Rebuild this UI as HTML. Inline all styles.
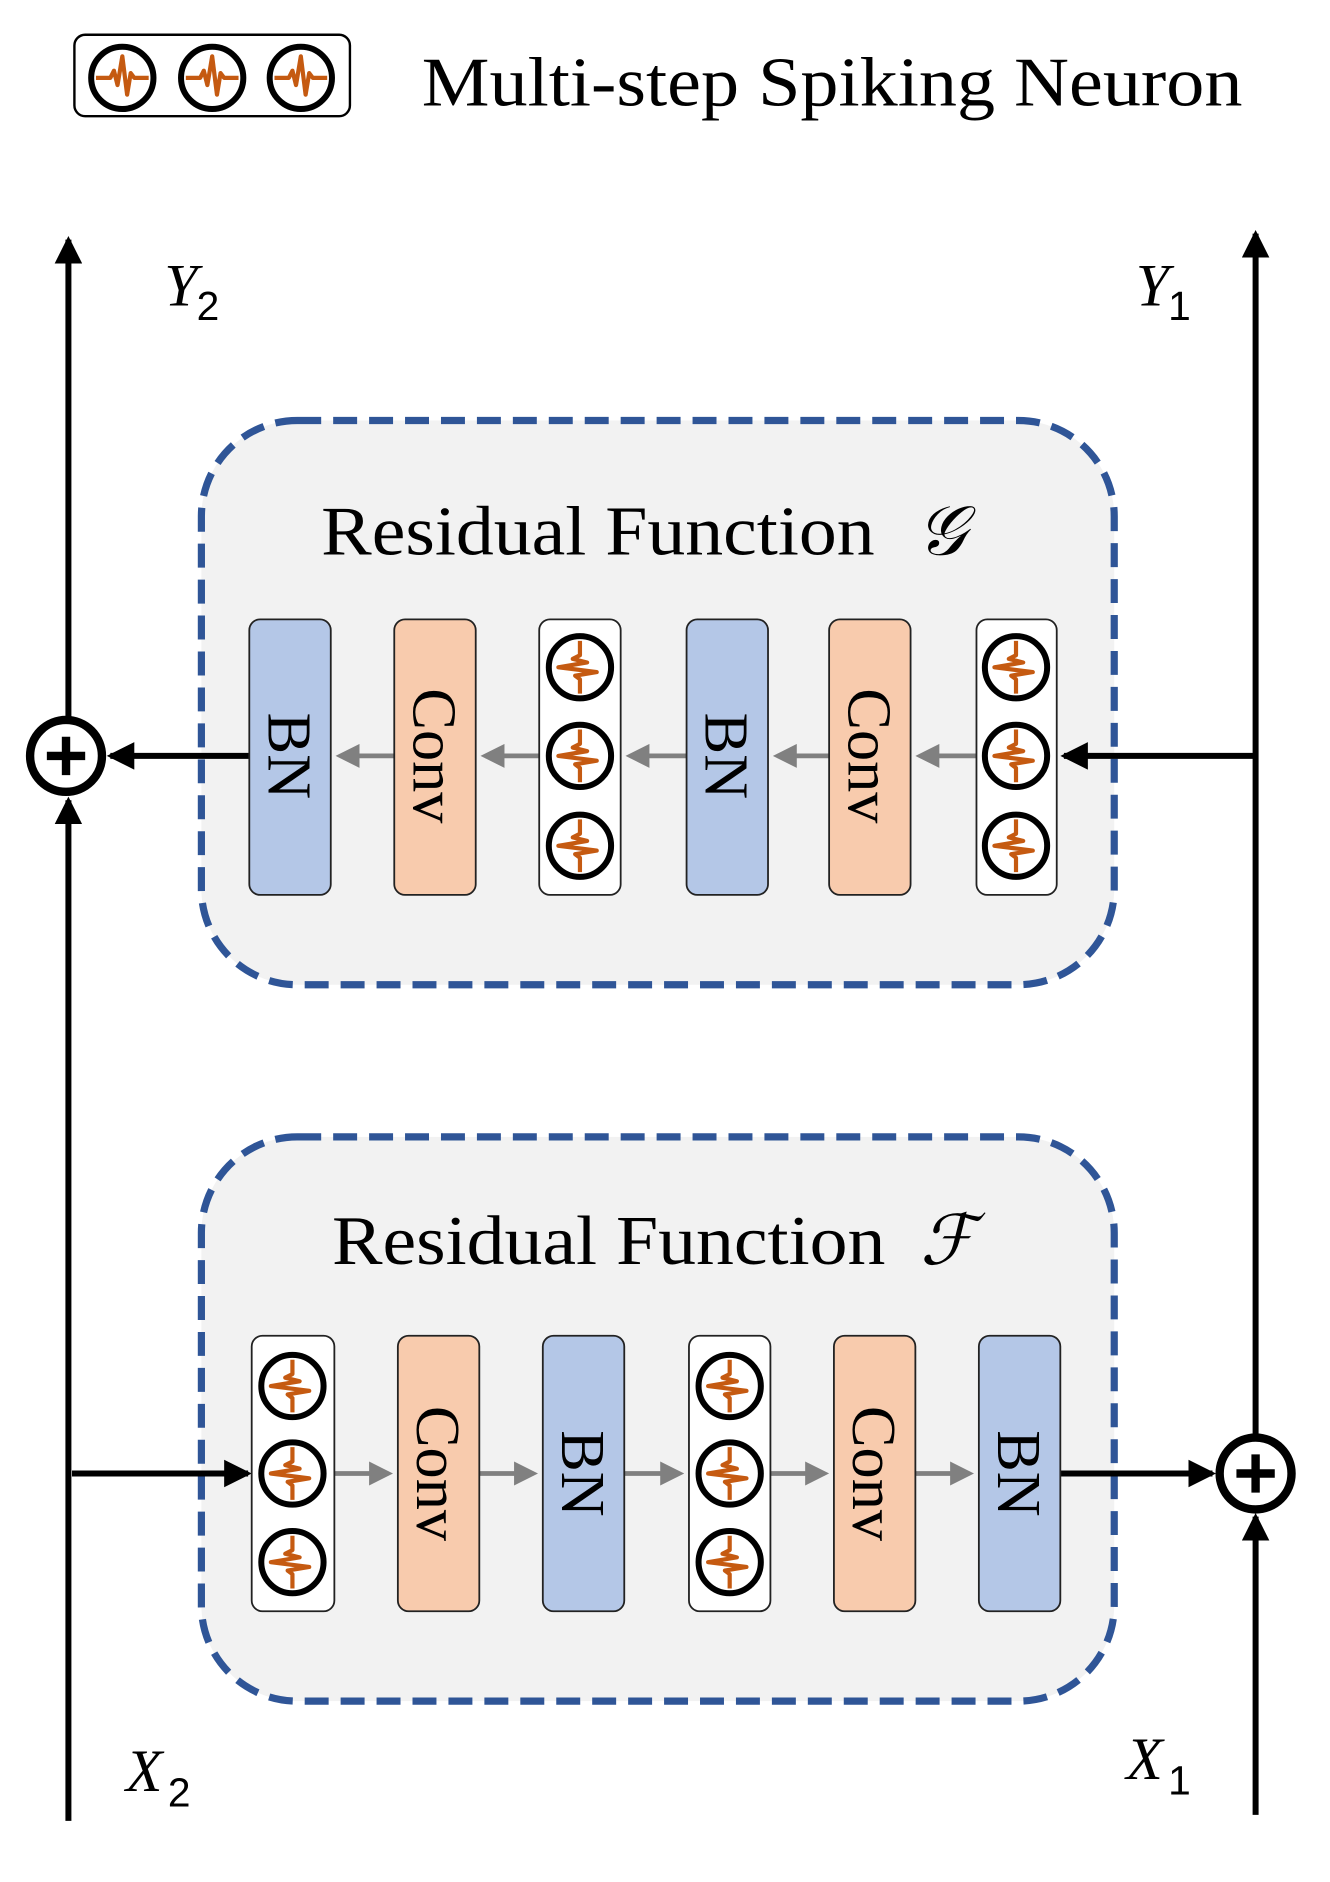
<!DOCTYPE html>
<html><head><meta charset="utf-8"><style>html,body{margin:0;padding:0;background:#fff}svg{display:block}</style></head><body>
<svg width="1330" height="1882" viewBox="0 0 1110 1571" xmlns="http://www.w3.org/2000/svg">
<defs>
<g id="n">
<circle cx="0" cy="0" r="26" fill="#fff" stroke="#000" stroke-width="5"/>
<polyline points="-22,0 -10,0 -7,-6 -4,6 0,-18 4,14 7,-4 10,0 22,0" fill="none" stroke="#c55a11" stroke-width="3.5" stroke-linejoin="round"/>
</g>
<g id="nv">
<circle cx="0" cy="0" r="26" fill="#fff" stroke="#000" stroke-width="5"/>
<polyline points="0,-22 0,-10 -6,-7 6,-4 -18,0 14,4 -4,7 0,10 0,22" fill="none" stroke="#c55a11" stroke-width="3.5" stroke-linejoin="round"/>
</g>
<marker id="ab" markerWidth="4.6" markerHeight="4.6" refX="4" refY="2.3" orient="auto" markerUnits="strokeWidth"><path d="M0,0 L4.6,2.3 L0,4.6 z" fill="#000"/></marker>
<marker id="ag" markerWidth="5" markerHeight="5" refX="4" refY="2.5" orient="auto" markerUnits="strokeWidth"><path d="M0,0 L5,2.5 L0,5 z" fill="#808080"/></marker>
</defs>

<rect x="62" y="29" width="230" height="68" rx="9" fill="#fff" stroke="#000" stroke-width="2"/>
<use href="#n" x="102" y="65"/><use href="#n" x="177" y="65"/><use href="#n" x="251" y="65"/>
<text x="352" y="88" font-family="Liberation Serif, serif" font-size="58" textLength="685" lengthAdjust="spacingAndGlyphs">Multi-step Spiking Neuron</text>

<line x1="57" y1="1520" x2="57" y2="668" stroke="#000" stroke-width="5" marker-end="url(#ab)"/>
<line x1="57" y1="600" x2="57" y2="200" stroke="#000" stroke-width="5" marker-end="url(#ab)"/>
<line x1="1048" y1="1515" x2="1048" y2="1266" stroke="#000" stroke-width="5" marker-end="url(#ab)"/>
<line x1="1048" y1="1198" x2="1048" y2="195" stroke="#000" stroke-width="5" marker-end="url(#ab)"/>

<text x="137" y="255" font-family="Liberation Serif, serif" font-style="italic" font-size="50">Y</text><text x="164" y="267" font-family="Liberation Sans, sans-serif" font-size="34">2</text>
<text x="948" y="255" font-family="Liberation Serif, serif" font-style="italic" font-size="50">Y</text><text x="975" y="267" font-family="Liberation Sans, sans-serif" font-size="34">1</text>
<text x="105" y="1495" font-family="Liberation Serif, serif" font-style="italic" font-size="50">X</text><text x="140" y="1508" font-family="Liberation Sans, sans-serif" font-size="34">2</text>
<text x="940" y="1485" font-family="Liberation Serif, serif" font-style="italic" font-size="50">X</text><text x="975" y="1498" font-family="Liberation Sans, sans-serif" font-size="34">1</text>

<rect x="168" y="351" width="762" height="471" rx="80" fill="#f2f2f2" stroke="#2f5597" stroke-width="6" stroke-dasharray="20 10"/>
<text x="268" y="463" font-family="Liberation Serif, serif" font-size="58" textLength="462" lengthAdjust="spacingAndGlyphs">Residual Function</text>
<text x="765" y="463" font-family="Liberation Serif, serif" font-style="italic" font-size="58">𝒢</text>

<line x1="1048" y1="631" x2="888" y2="631" stroke="#000" stroke-width="5" marker-end="url(#ab)"/>
<line x1="208" y1="631" x2="92" y2="631" stroke="#000" stroke-width="5" marker-end="url(#ab)"/>
<g stroke="#808080" stroke-width="4" marker-end="url(#ag)">
<line x1="815" y1="631" x2="768" y2="631"/><line x1="692" y1="631" x2="649" y2="631"/>
<line x1="573" y1="631" x2="526" y2="631"/><line x1="450" y1="631" x2="405" y2="631"/>
<line x1="329" y1="631" x2="284" y2="631"/>
</g>
<g stroke="#222" stroke-width="1.5">
<rect x="208" y="517" width="68" height="230" rx="9" fill="#b4c7e7"/>
<rect x="329" y="517" width="68" height="230" rx="9" fill="#f8cbad"/>
<rect x="450" y="517" width="68" height="230" rx="9" fill="#fff"/>
<rect x="573" y="517" width="68" height="230" rx="9" fill="#b4c7e7"/>
<rect x="692" y="517" width="68" height="230" rx="9" fill="#f8cbad"/>
<rect x="815" y="517" width="67" height="230" rx="9" fill="#fff"/>
</g>
<use href="#nv" x="484" y="557"/><use href="#nv" x="484" y="631"/><use href="#nv" x="484" y="706"/>
<use href="#nv" x="848" y="557"/><use href="#nv" x="848" y="631"/><use href="#nv" x="848" y="706"/>
<g font-family="Liberation Serif, serif" font-size="52" text-anchor="middle">
<text transform="translate(224,631) rotate(90)">BN</text>
<text transform="translate(345,631) rotate(90)">Conv</text>
<text transform="translate(589,631) rotate(90)">BN</text>
<text transform="translate(708,631) rotate(90)">Conv</text>
</g>
<circle cx="55" cy="631" r="30" fill="#fff" stroke="#000" stroke-width="7"/>
<path d="M55,615 V647 M39,631 H71" stroke="#000" stroke-width="7"/>

<rect x="168" y="949" width="762" height="471" rx="80" fill="#f2f2f2" stroke="#2f5597" stroke-width="6" stroke-dasharray="20 10"/>
<text x="277" y="1055" font-family="Liberation Serif, serif" font-size="58" textLength="462" lengthAdjust="spacingAndGlyphs">Residual Function</text>
<text x="768" y="1055" font-family="Liberation Serif, serif" font-style="italic" font-size="58">ℱ</text>

<line x1="60" y1="1230" x2="207" y2="1230" stroke="#000" stroke-width="5" marker-end="url(#ab)"/>
<line x1="885" y1="1230" x2="1012" y2="1230" stroke="#000" stroke-width="5" marker-end="url(#ab)"/>
<g stroke="#808080" stroke-width="4" marker-end="url(#ag)">
<line x1="279" y1="1230" x2="324" y2="1230"/><line x1="400" y1="1230" x2="445" y2="1230"/>
<line x1="521" y1="1230" x2="567" y2="1230"/><line x1="643" y1="1230" x2="688" y2="1230"/>
<line x1="764" y1="1230" x2="809" y2="1230"/>
</g>
<g stroke="#222" stroke-width="1.5">
<rect x="210" y="1115" width="69" height="230" rx="9" fill="#fff"/>
<rect x="332" y="1115" width="68" height="230" rx="9" fill="#f8cbad"/>
<rect x="453" y="1115" width="68" height="230" rx="9" fill="#b4c7e7"/>
<rect x="575" y="1115" width="68" height="230" rx="9" fill="#fff"/>
<rect x="696" y="1115" width="68" height="230" rx="9" fill="#f8cbad"/>
<rect x="817" y="1115" width="68" height="230" rx="9" fill="#b4c7e7"/>
</g>
<use href="#nv" x="244" y="1157"/><use href="#nv" x="244" y="1230"/><use href="#nv" x="244" y="1304"/>
<use href="#nv" x="609" y="1157"/><use href="#nv" x="609" y="1230"/><use href="#nv" x="609" y="1304"/>
<g font-family="Liberation Serif, serif" font-size="52" text-anchor="middle">
<text transform="translate(348,1230) rotate(90)">Conv</text>
<text transform="translate(469,1230) rotate(90)">BN</text>
<text transform="translate(712,1230) rotate(90)">Conv</text>
<text transform="translate(833,1230) rotate(90)">BN</text>
</g>
<circle cx="1048" cy="1230" r="30" fill="#fff" stroke="#000" stroke-width="7"/>
<path d="M1048,1214 V1246 M1032,1230 H1064" stroke="#000" stroke-width="7"/>
</svg>
</body></html>
